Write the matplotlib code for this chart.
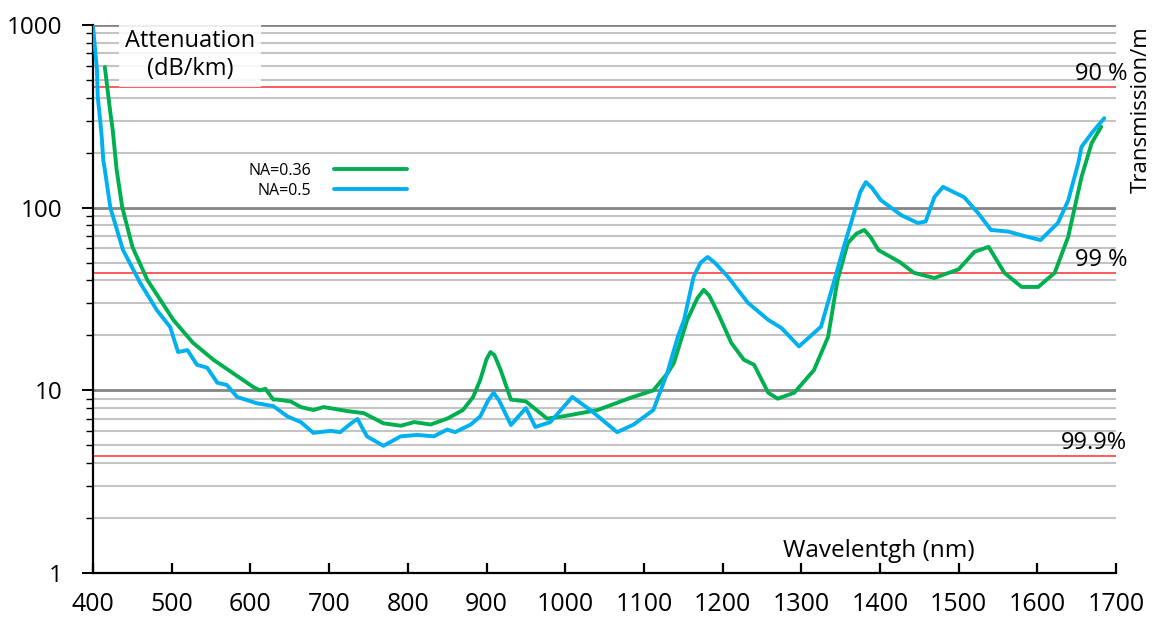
import numpy as np
import matplotlib.pyplot as plt
from matplotlib.ticker import LogLocator, NullFormatter, FixedLocator

plt.rcParams['font.family'] = ['Open Sans', 'DejaVu Sans']

# Attenuation spectra (dB/km) for two numerical apertures
wl_na036 = [415, 418, 422, 425, 430, 437, 450, 469, 502, 527, 553, 578, 604, 612, 619, 629, 634, 651,
            664, 680, 693, 723, 744, 769, 791, 808, 829, 850, 870, 883, 892, 900, 905, 910, 918,
            931, 950, 977, 997, 1041, 1083, 1112, 1130, 1138, 1155, 1168, 1176, 1183, 1194, 1211,
            1227, 1240, 1258, 1270, 1291, 1316, 1334, 1346, 1359, 1370, 1380, 1388, 1398, 1425,
            1443, 1469, 1500, 1520, 1538, 1558, 1580, 1601, 1622, 1639, 1656, 1669, 1681]
att_na036 = [589, 458, 331, 266, 161, 101, 61, 40.2, 24.3, 18.2, 14.7, 12.4, 10.4, 10.0, 10.2, 8.9, 8.9, 8.7,
             8.1, 7.8, 8.1, 7.7, 7.5, 6.6, 6.4, 6.7, 6.5, 7.0, 7.8, 9.2, 11.4, 14.8, 16.2, 15.6, 12.9,
             8.9, 8.7, 7.0, 7.2, 7.8, 9.1, 10.0, 12.4, 14.1, 24.3, 32, 35.5, 33, 26.5, 18.2,
             14.7, 13.8, 9.7, 9.0, 9.7, 12.9, 19.6, 40.2, 64, 72, 75.5, 69, 58.6, 50.4,
             44, 41.2, 46, 57.3, 61, 44, 36.8, 36.8, 44, 69, 147, 226, 277]

wl_na05 = [400, 405, 406, 409, 411, 413, 415, 422, 438, 460, 481, 498, 508, 520, 532, 545, 558, 570, 583,
           608, 629, 647, 664, 680, 702, 714, 728, 736, 748, 769, 791, 812, 833, 850, 860,
           880, 892, 902, 909, 916, 931, 950, 962, 981, 1009, 1032, 1066, 1087, 1112, 1130,
           1143, 1151, 1163, 1172, 1181, 1190, 1207, 1232, 1258, 1275, 1297, 1325, 1342, 1354,
           1367, 1375, 1382, 1390, 1401, 1427, 1448, 1458, 1469, 1480, 1493, 1507, 1525, 1541,
           1563, 1583, 1604, 1626, 1639, 1652, 1656, 1669, 1685]
att_na05 = [975, 567, 403, 302, 244, 182, 161, 100, 58.7, 38.7, 27.5, 22.2, 16.2, 16.6, 13.8, 13.3, 11.0, 10.7, 9.2,
            8.5, 8.2, 7.2, 6.7, 5.85, 6.0, 5.9, 6.6, 6.97, 5.6, 4.97, 5.6, 5.7, 5.6, 6.1, 5.9,
            6.5, 7.2, 8.8, 9.7, 8.8, 6.46, 8.0, 6.3, 6.7, 9.2, 7.8, 5.9, 6.5, 7.8, 12.6,
            19.6, 24.3, 41.7, 50, 53.7, 50, 41.7, 30.2, 24.3, 21.9, 17.4, 22.3, 40, 61,
            93.7, 122, 138, 128, 110, 91, 82.4, 84, 114, 130, 122, 114, 93, 75.5,
            74, 70, 66.5, 82.4, 109, 176, 215, 256, 309]

# transmission per metre -> attenuation level in dB/km
trans_levels = [0.90, 0.99, 0.999]
trans_labels = ['90 %', '99 %', '99.9%']

fig = plt.figure(figsize=(11.53, 6.17), dpi=100)
ax = fig.add_axes([0.0807, 0.0713, 0.8873, 0.8882])

ax.set_yscale('log')
ax.set_xlim(400, 1700)
ax.set_ylim(1, 1000)

# grid
ax.yaxis.set_minor_locator(LogLocator(base=10, subs=np.arange(2, 10)))
ax.yaxis.set_minor_formatter(NullFormatter())
ax.grid(True, which='major', axis='y', color='#858585', lw=2.0, zorder=0)
ax.grid(True, which='minor', axis='y', color='#c4c4c4', lw=1.5, zorder=0)
ax.set_axisbelow(True)

for t, lab in zip(trans_levels, trans_labels):
    att = -10 * np.log10(t) * 1000
    ax.axhline(att, color='#ff5a5a', lw=1.4, zorder=1)
    ax.annotate(lab, (1700, att), xytext=(8, 1), textcoords='offset points',
                ha='right', va='bottom', fontsize=17, zorder=5)

ax.plot(wl_na036, att_na036, color='#00B050', lw=2.8, label='NA=0.36', zorder=3,
        solid_joinstyle='round', solid_capstyle='round')
ax.plot(wl_na05, att_na05, color='#00B0F0', lw=2.8, label='NA=0.5', zorder=4,
        solid_joinstyle='round', solid_capstyle='round')

leg = ax.legend(loc='upper left', bbox_to_anchor=(0.138, 0.775), frameon=False,
                markerfirst=False, fontsize=11.5, handlelength=4.6, handletextpad=1.4,
                labelspacing=0.25)

# axes styling
for s in ['top', 'right']:
    ax.spines[s].set_visible(False)
for s in ['left', 'bottom']:
    ax.spines[s].set_linewidth(1.6)
ax.xaxis.set_major_locator(FixedLocator(np.arange(400, 1701, 100)))
ax.tick_params(axis='x', direction='in', length=7, width=1.6, pad=14, labelsize=18)
ax.tick_params(axis='y', which='major', direction='out', length=8, width=1.4, pad=14, labelsize=17.5)
ax.tick_params(axis='y', which='minor', direction='out', length=5, width=1.0)
ax.set_yticks([1, 10, 100, 1000])
ax.set_yticklabels(['1', '10', '100', '1000'])

ax.text(0.095, 0.945, 'Attenuation\n(dB/km)', transform=ax.transAxes, ha='center', va='center',
        fontsize=17, linespacing=1.25, zorder=6,
        bbox=dict(boxstyle='square,pad=0.25', fc='white', ec='none', alpha=0.85))
ax.text(0.768, 0.04, 'Wavelentgh (nm)', transform=ax.transAxes, ha='center', va='center',
        fontsize=17.5, zorder=6)
fig.text(0.99, 0.822, 'Transmission/m', rotation=90, ha='center', va='center', fontsize=16)

fig.savefig('out.png', dpi=100)
